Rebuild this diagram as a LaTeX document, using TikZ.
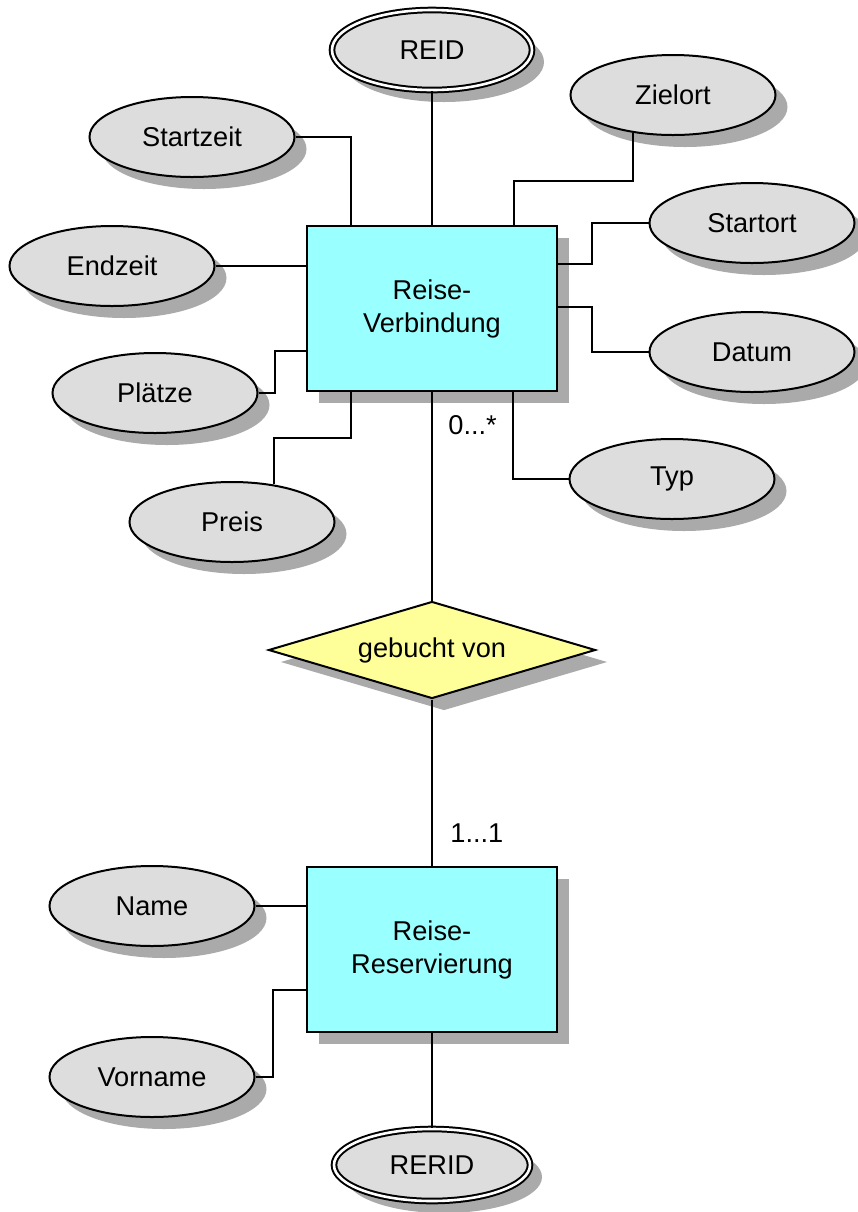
\documentclass[tikz,border=0pt]{standalone}
\usepackage{fontspec}
\setmainfont{Liberation Sans}
\usepackage{tikz}
\usetikzlibrary{shapes.geometric,shadows}
\definecolor{entcyan}{HTML}{99FFFF}
\definecolor{attrgray}{HTML}{DDDDDD}
\definecolor{relyellow}{HTML}{FFFF99}
\definecolor{shadegray}{HTML}{AAAAAA}

\tikzset{
  shade/.style={drop shadow={shadow xshift=6pt, shadow yshift=-6pt, fill=shadegray, opacity=1}},
  entity/.style={rectangle, draw, line width=1pt, fill=entcyan, minimum width=125pt, minimum height=82.5pt, align=center, shade},
  attr/.style={ellipse, draw, line width=1pt, fill=attrgray, minimum width=102.5pt, minimum height=40pt, shade},
  keyattr/.style={attr, line width=1pt, double=white, double distance=1.3pt},
  rel/.style={diamond, draw, line width=1pt, fill=relyellow, aspect=3.37, minimum width=163.5pt, minimum height=48.5pt, shade},
  card/.style={anchor=west},
  link/.style={line width=1pt}
}

\begin{document}
\begin{tikzpicture}[x=0.5pt,y=-0.5pt, font=\fontsize{13.6}{16.5}\selectfont, every node/.append style={inner sep=0pt}]
\useasboundingbox (0,0) rectangle (858,1212);

% entities and relationship
\node [entity] (verb) at (432,308.5) {Reise-\\Verbindung};
\node [entity] (res) at (432,949.5) {Reise-\\Reservierung};
\node [rel] (booked) at (432,650) {gebucht von};

% attributes
\node [keyattr, minimum width=100pt] (reid) at (432,50) {REID};
\node [attr] (startzeit) at (192,137) {Startzeit};
\node [attr] (zielort) at (673,95) {Zielort};
\node [attr] (endzeit) at (112,266) {Endzeit};
\node [attr] (startort) at (752,223) {Startort};
\node [attr] (plaetze) at (155,393) {Plätze};
\node [attr] (datum) at (752,352) {Datum};
\node [attr] (typ) at (672,479) {Typ};
\node [attr] (preis) at (232,522) {Preis};
\node [attr] (name) at (152,906) {Name};
\node [attr] (vorname) at (152,1077) {Vorname};
\node [keyattr, minimum width=98pt, minimum height=36pt] (rerid) at (432,1165) {RERID};

% connectors
\draw [link] (reid.south) -- (verb.north);
\draw [link] (startzeit.east) -| ([xshift=22.5pt]verb.north west);
\draw [link] (zielort.223) -- ++(0,48) -| ([xshift=-22pt]verb.north east);
\draw [link] (endzeit.east) -- (endzeit.east -| verb.west);
\draw [link] (startort.west) -- ++(-57,0) |- ([yshift=-19.5pt]verb.north east);
\draw [link] (datum.west) -- ++(-57,0) |- ([yshift=-41pt]verb.north east);
\draw [link] (plaetze.east) -- ++(16,0) |- ([yshift=-63pt]verb.north west);
\draw [link] (preis.42) |- ([xshift=22.5pt,yshift=-23pt]verb.south west) -- ([xshift=22.5pt]verb.south west);
\draw [link] (typ.west) -| ([xshift=-22.5pt]verb.south east);
\draw [link] (verb.south) -- (booked.north);
\draw [link] (booked.south) -- (res.north);
\draw [link] (name.east) -- (name.east -| res.west);
\draw [link] (vorname.east) -- ++(17,0) |- ([yshift=-62pt]res.north west);
\draw [link] (res.south) -- (rerid.north);

% cardinalities
\node [card] (cardverb) at (448,425) {0...*};
\node [card] (cardres) at (450,833) {1...1};
\end{tikzpicture}
\end{document}
